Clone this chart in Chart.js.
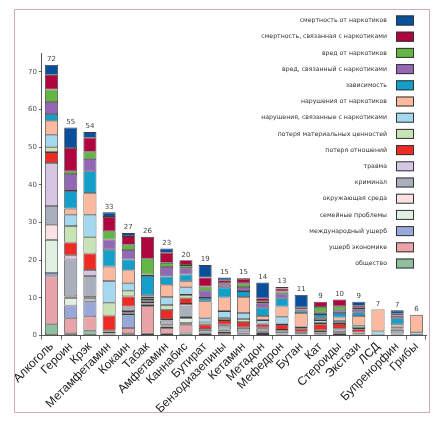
<!DOCTYPE html>
<html>
<head>
<meta charset="utf-8">
<script src="https://cdn.jsdelivr.net/npm/chart.js@4"></script>
<style>
  body { margin: 0; background: #fff; }
  #wrap { position: relative; width: 436px; height: 422px; }
  #frame { position: absolute; left: 14px; top: 9px; width: 414px; height: 402px;
           border: 1.5px solid #d9a8bf; pointer-events: none; }
</style>
</head>
<body>
<div id="wrap">
  <canvas id="harms"></canvas>
  <div id="frame"></div>
</div>
<script>
const drugs = ['Алкоголь', 'Героин', 'Крэк', 'Метамфетамин', 'Кокаин', 'Табак', 'Амфетамин', 'Каннабис',
  'Бутират', 'Бензодиазепины', 'Кетамин', 'Метадон', 'Мефедрон', 'Бутан', 'Кат', 'Стероиды',
  'Экстази', 'ЛСД', 'Бупренорфин', 'Грибы']

const totals = [72, 55, 54, 33, 27, 26, 23, 20, 19, 15, 15, 14, 13, 11, 9, 10, 9, 7, 7, 6]

// bottom of the stack first
const community      = [3.0, 0.6, 1.3, 0.1, 0.6, 0.5, 0.5, 0.8, 0.1, 0.2, 0.1, 0.1, 0.1, 0.1, 0.1, 0.1, 0.1, 0, 0.1, 0]
const economicCost   = [12.7, 4.0, 3.8, 0.2, 1.4, 7.3, 1.5, 2.1, 0.3, 0.5, 0.2, 0.3, 0.2, 0.1, 0.2, 0.3, 0.1, 0, 0.2, 0]
const international  = [0.9, 3.4, 4.0, 0.2, 3.7, 0.4, 0.4, 0.4, 0.2, 0.4, 0.3, 0.3, 0.2, 0.1, 0.2, 0.2, 0.1, 0, 0.2, 0]
const family         = [8.8, 1.9, 0.7, 0.1, 0.5, 0.2, 0.3, 1.3, 0.1, 0.3, 0.2, 0.2, 0.1, 0.1, 0.2, 0.3, 0.1, 0, 0.1, 0]
const environment    = [4.0, 0.5, 0.4, 0.1, 0.3, 0.1, 0.2, 0.4, 0.1, 0.2, 0.1, 0.1, 0.1, 0.1, 0.1, 0.1, 0.1, 0, 0, 0]
const crime          = [5.0, 9.8, 5.6, 0.4, 0.7, 0.4, 1.1, 2.7, 0.7, 1.0, 1.1, 0.8, 0.6, 0.4, 0.4, 0.6, 0.3, 0, 0.9, 0.1]
const injury         = [11.4, 1.1, 1.6, 0.2, 0.5, 0.5, 0.4, 0.7, 0.2, 0.3, 0.2, 0.3, 0.2, 0.1, 0.2, 0.2, 0.1, 0, 0.1, 0]
const lossRelations  = [2.9, 3.4, 4.4, 4.0, 2.7, 0.4, 2.4, 1.5, 1.2, 1.2, 1.4, 0.9, 1.3, 0.8, 1.6, 1.3, 0.8, 0, 0.3, 0]
const lossTangibles  = [1.3, 4.4, 4.3, 3.4, 1.5, 0.2, 1.3, 0.9, 0.6, 0.6, 0.8, 0.2, 0.4, 0.2, 0.4, 0.3, 0.3, 0.1, 0.2, 0.1]
const relImpairment  = [3.3, 3.0, 6.0, 5.8, 2.0, 0.4, 2.1, 2.0, 1.1, 1.8, 1.6, 0.9, 1.8, 0.4, 0.7, 0.5, 0.6, 1.0, 0.3, 0.7]
const specImpairment = [3.7, 1.6, 5.7, 3.8, 3.4, 0.3, 3.3, 1.6, 4.5, 3.6, 4.2, 1.1, 2.7, 3.6, 0.6, 0.9, 2.6, 5.8, 0.6, 4.5]
const dependence     = [1.8, 4.7, 5.8, 4.5, 2.9, 5.1, 2.2, 1.8, 0.9, 2.7, 1.6, 2.2, 2.2, 0.7, 1.0, 1.2, 1.0, 0.1, 1.6, 0.1]
const relDamage      = [3.2, 4.5, 3.3, 2.7, 2.5, 0.4, 2.5, 1.7, 1.9, 0.8, 1.1, 1.2, 1.2, 0.1, 0.5, 0.7, 0.8, 0, 0.6, 0]
const specDamage     = [3.3, 0.7, 1.9, 2.2, 1.4, 4.2, 1.1, 0.8, 1.1, 0.3, 1.0, 0.4, 0.6, 0.1, 1.4, 1.1, 0.4, 0, 0.1, 0]
const relMortality   = [3.9, 6.2, 3.7, 3.8, 2.3, 5.8, 2.7, 1.3, 2.4, 0.8, 1.2, 0.9, 0.8, 0.6, 1.4, 1.8, 0.5, 0, 0.5, 0]
const specMortality  = [2.6, 5.4, 1.5, 1.2, 0.8, 0, 1.1, 0, 3.3, 0.7, 0.2, 4.2, 0.4, 3.3, 0, 0, 1.1, 0, 0.9, 0]

const harms = [
  ['общество', community, '#8fbfa0'],
  ['ущерб экономике', economicCost, '#e8a4a8'],
  ['международный ущерб', international, '#99a8d9'],
  ['семейные проблемы', family, '#e2f0e2'],
  ['окружающая среда', environment, '#fbe2e2'],
  ['криминал', crime, '#a9b0bc'],
  ['травма', injury, '#d6c6e4'],
  ['потеря отношений', lossRelations, '#ee2a24'],
  ['потеря материальных ценностей', lossTangibles, '#c8e3b6'],
  ['нарушения, связанные с наркотиками', relImpairment, '#a4d8ee'],
  ['нарушения от наркотиков', specImpairment, '#fbb9a0'],
  ['зависимость', dependence, '#149fca'],
  ['вред, связанный с наркотиками', relDamage, '#9467b5'],
  ['вред от наркотиков', specDamage, '#63b544'],
  ['смертность, связанная с наркотиками', relMortality, '#b0063f'],
  ['смертность от наркотиков', specMortality, '#0a4f9c']
]

const totalLabels = {
  id: 'totalLabels',
  afterDatasetsDraw(chart) {
    const ctx = chart.ctx
    const x = chart.scales.x
    const y = chart.scales.y
    ctx.save()
    ctx.font = '7px "DejaVu Sans"'
    ctx.fillStyle = '#444'
    ctx.textAlign = 'center'
    ctx.textBaseline = 'bottom'
    drugs.forEach((d, i) => {
      const sum = harms.reduce((s, h) => s + h[1][i], 0)
      ctx.fillText(totals[i], x.getPixelForValue(i), y.getPixelForValue(sum) - 2)
    })
    ctx.restore()
  }
}

const sideLegend = {
  id: 'sideLegend',
  afterDraw(chart) {
    const ctx = chart.ctx
    ctx.save()
    ctx.font = '6.2px "DejaVu Sans"'
    ctx.textAlign = 'right'
    ctx.textBaseline = 'middle'
    const list = harms.slice().reverse()
    list.forEach((h, i) => {
      const cy = 20.5 + i * 16.2
      ctx.fillStyle = '#333'
      ctx.fillText(h[0], 387, cy)
      ctx.fillStyle = h[2]
      ctx.fillRect(396, cy - 5, 18, 10)
      ctx.strokeStyle = '#333'
      ctx.lineWidth = 1
      ctx.strokeRect(396.5, cy - 4.5, 17, 9)
    })
    ctx.restore()
  }
}

new Chart(document.getElementById('harms'), {
  type: 'bar',
  data: {
    labels: drugs,
    datasets: harms.map(h => ({
      label: h[0],
      data: h[1].map(v => v === 0 ? null : v),
      backgroundColor: h[2],
      borderColor: '#3c3c3c',
      borderWidth: 0.8,
      borderSkipped: false,
      barPercentage: 0.68,
      categoryPercentage: 1
    }))
  },
  options: {
    responsive: true,
    maintainAspectRatio: false,
    animation: false,
    layout: {
      padding: { left: 26, top: 53, right: 10, bottom: 6 }
    },
    plugins: {
      legend: { display: false },
      tooltip: { enabled: false }
    },
    scales: {
      x: {
        stacked: true,
        grid: { display: true, drawOnChartArea: false, tickLength: 4, color: '#666' },
        border: { color: '#555' },
        ticks: {
          maxRotation: 45,
          minRotation: 45,
          autoSkip: false,
          color: '#222',
          font: { family: 'Liberation Sans', size: 12 },
          padding: 0
        }
      },
      y: {
        stacked: true,
        min: 0,
        max: 75,
        afterBuildTicks: scale => {
          scale.ticks = scale.ticks.filter(t => t.value % 10 === 0)
        },
        grid: { display: true, drawOnChartArea: false, tickLength: 3, color: '#666' },
        border: { color: '#555' },
        ticks: {
          stepSize: 10,
          color: '#555',
          padding: 2,
          font: { family: 'DejaVu Sans', size: 7 }
        }
      }
    }
  },
  plugins: [totalLabels, sideLegend]
})
</script>
</body>
</html>
